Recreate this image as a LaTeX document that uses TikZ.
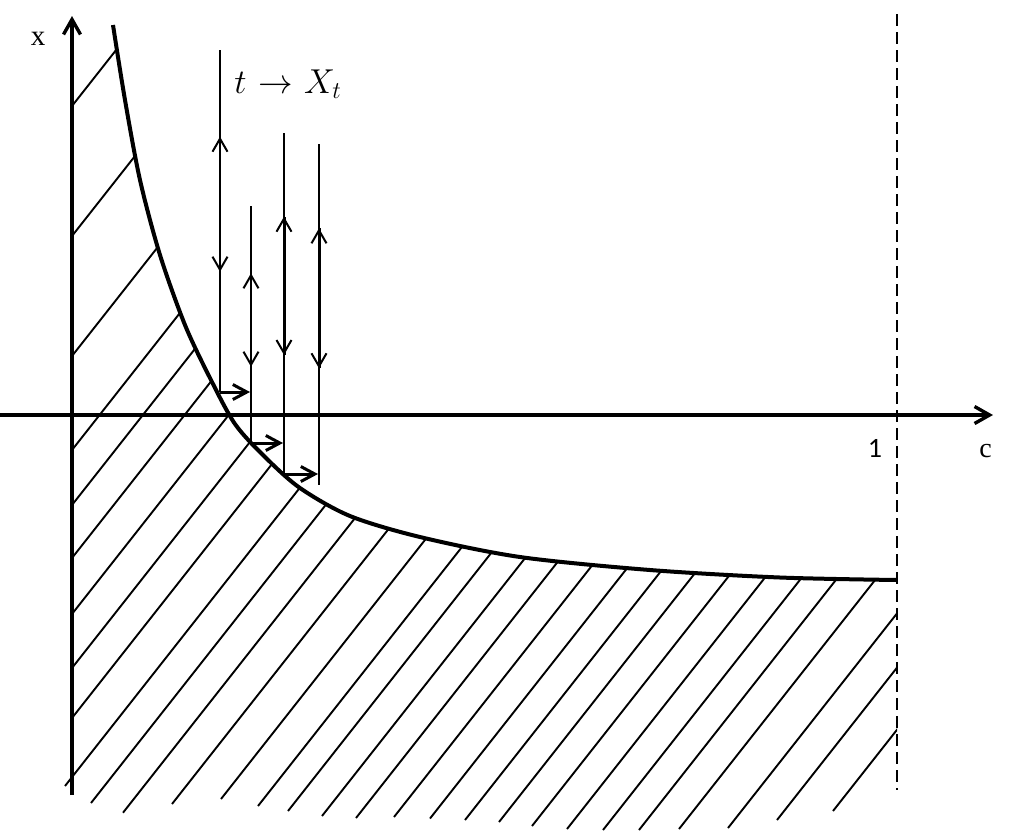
\documentclass[tikz,border=0pt]{standalone}
\usepackage{fontspec}
\newfontfamily\lserif{Liberation Serif}
\newfontfamily\carl{Carlito}
\usetikzlibrary{arrows.meta}
\begin{document}
\begin{tikzpicture}[x=0.5pt,y=-0.5pt,
  axis/.style={line width=1.7pt,-{Straight Barb[length=7.5pt,width=8.5pt]}},
  curvestyle/.style={line width=2pt},
  hatch/.style={line width=0.95pt},
  dashln/.style={line width=1pt,dash pattern=on 6pt off 3pt},
  vline/.style={line width=1pt},
  thickseg/.style={line width=1.5pt},
  midarr/.style={line width=1pt,-{Straight Barb[length=6.5pt,width=7.5pt]}},
  harr/.style={line width=1.5pt,-{Straight Barb[length=7pt,width=7.5pt]}}]
\useasboundingbox (0,0) rectangle (1012,832);

% hatching
\begin{scope}
\clip (60,-10) -- (113,-10) -- plot[smooth] coordinates {(113,25) (125,100) (140,180) (160,255) (185,325) (210,378) (235,424) (265,457) (300,488) (350,516) (420,537) (520,557) (650,570) (780,577.5) (897,580)} -- (897,900) -- (60,900) -- cycle;
\foreach \a/\b in {72/106,72/236,72/356,72/450,72/505,72/558,72/614,72/668,72/718,65/786,
  91/803,123/812.7,172/804,221/799,258/806,288/811,322/816,356/818,394/817,430/818.5,
  465/820,499/822,532/826,567/829,603/830,639/830,679/829,728/828,777/820,833/811}
  \draw[hatch] (\a,\b) -- ++(500,-635);
\end{scope}

% curve
\draw[curvestyle] plot[smooth] coordinates {(113,25) (125,100) (140,180) (160,255) (185,325) (210,378) (235,424) (265,457) (300,488) (350,516) (420,537) (520,557) (650,570) (780,577.5) (897,580)};

% axes
\coordinate (ybot) at (72,795);
\coordinate (ytop) at (72,16);
\coordinate (xleft) at (0,415);
\coordinate (xright) at (993,415);
\draw[axis] (ybot) -- (ytop);
\draw[axis] (xleft) -- (xright);

% dashed line c = 1
\coordinate (dtop) at (897,14);
\coordinate (dbot) at (897,790);
\draw[dashln] (dtop) -- (dbot);

% vertical trajectories
\coordinate (v1t) at (220,50);  \coordinate (v1b) at (220,392);
\coordinate (v2t) at (251,206); \coordinate (v2b) at (251,443);
\coordinate (v3t) at (284,133); \coordinate (v3b) at (284,474);
\coordinate (v4t) at (319,144); \coordinate (v4b) at (319,485);
\draw[vline] (v1t) -- (v1b);
\draw[vline] (v2t) -- (v2b);
\draw[vline] (v3t) -- (v3b);
\draw[vline] (v4t) -- (v4b);
\draw[thickseg] (284,217) -- (284,355);
\draw[thickseg] (319,228) -- (319,368);

% arrowheads on the vertical lines
\draw[midarr] (220,150) -- (220,136.7);
\draw[midarr] (220,258) -- (220,271.7);
\draw[midarr] (251,287) -- (251,273.3);
\draw[midarr] (251,353) -- (251,366.7);
\draw[midarr] (284,230) -- (284,216.7);
\draw[midarr] (284,341) -- (284,355);
\draw[midarr] (319,242) -- (319,228.3);
\draw[midarr] (319,354) -- (319,368.3);

% horizontal jumps
\coordinate (h1s) at (220,392); \coordinate (h1e) at (250,392);
\coordinate (h2s) at (251,443); \coordinate (h2e) at (283,443);
\coordinate (h3s) at (284,474); \coordinate (h3e) at (318,474);
\draw[harr] (h1s) -- (h1e);
\draw[harr] (h2s) -- (h2e);
\draw[harr] (h3s) -- (h3e);

% labels
\node[anchor=base west, inner sep=0, font=\fontsize{16.5}{19}\selectfont] (lbl) at (234,93) {$t\mkern1mu\rightarrow\mkern1mu X_{t}$};
\node[anchor=base, inner sep=0, font=\lserif\fontsize{14.5}{17}\selectfont] (xlab) at (38,45) {x};
\node[anchor=base, inner sep=0, font=\carl\fontsize{14}{16}\selectfont] (one) at (875,457) {1};
\node[anchor=base, inner sep=0, font=\lserif\fontsize{14}{17}\selectfont] (clab) at (985.5,457) {c};
\end{tikzpicture}
\end{document}
